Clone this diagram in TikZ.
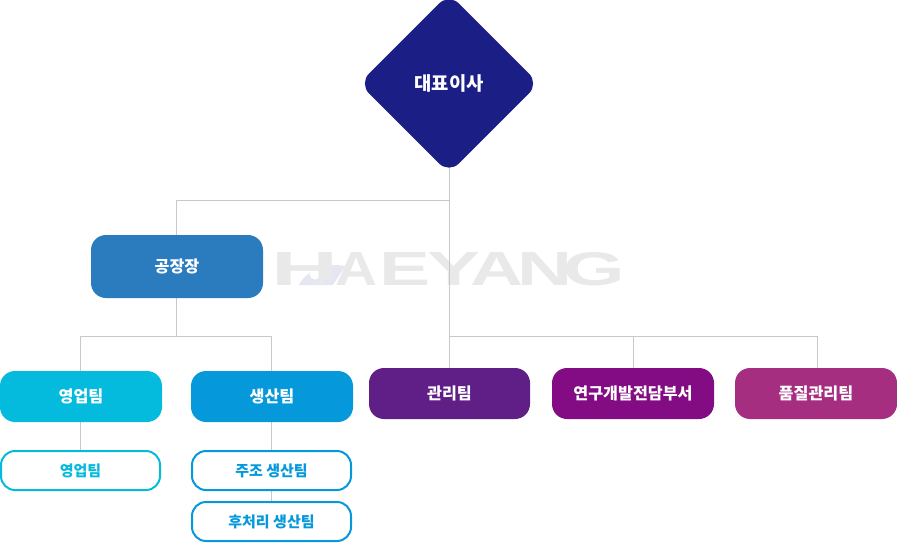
\documentclass[tikz,border=0pt]{standalone}
\usepackage{fontspec}
\setmainfont{Noto Sans CJK KR}
\newfontfamily\logofont{Liberation Sans}
\usetikzlibrary{shapes.geometric,backgrounds}
\definecolor{cBoss}{HTML}{1B1F85}
\definecolor{cFactory}{HTML}{2B7BBF}
\definecolor{cSales}{HTML}{05BBDD}
\definecolor{cProd}{HTML}{0599DC}
\definecolor{cAdmin}{HTML}{5F1F87}
\definecolor{cRnd}{HTML}{830C84}
\definecolor{cQual}{HTML}{A52E80}
\definecolor{cLine}{HTML}{C8C8C8}
\definecolor{cLogo}{HTML}{E9E9E9}
\definecolor{cBlob}{HTML}{E4E6F2}
\newcommand{\logoletter}[2]{\resizebox{#1pt}{33pt}{#2}}
\tikzset{
  x=1pt,y=-1pt,
  teambox/.style={rectangle,rounded corners=15pt,inner sep=0pt,text=white,font=\bfseries\fontsize{16.2}{18}\selectfont,minimum height=51pt,minimum width=162pt},
  subbox/.style={rectangle,rounded corners=14pt,inner sep=0pt,draw,line width=2pt,fill=white,font=\bfseries\fontsize{15}{17}\selectfont,minimum height=39pt,minimum width=159pt},
  conn/.style={draw=cLine,line width=1pt},
}
\begin{document}
\begin{tikzpicture}
\useasboundingbox (0,0) rectangle (897,542);
\node[diamond,aspect=1,inner sep=0pt,minimum width=180pt,minimum height=180pt,fill=cBoss,rounded corners=14pt,text=white,font=\bfseries\fontsize{18.8}{20}\selectfont] (boss) at (449,83.5) {대표이사};
\node[teambox,fill=cFactory,minimum width=172pt,minimum height=63pt] (factory) at (177,266.5) {공장장};
\node[teambox,fill=cSales] (sales) at (81,396.5) {영업팀};
\node[teambox,fill=cProd] (prod) at (272,396.5) {생산팀};
\node[teambox,fill=cAdmin,minimum width=161pt] (admin) at (449.5,393.5) {관리팀};
\node[teambox,fill=cRnd] (rnd) at (633,393.5) {연구개발전담부서};
\node[teambox,fill=cQual] (qual) at (816,393.5) {품질관리팀};
\node[subbox,draw=cSales,text=cSales] (salessub) at (80.5,470.5) {영업팀};
\node[subbox,draw=cProd,text=cProd] (cast) at (271.5,470.5) {주조 생산팀};
\node[subbox,draw=cProd,text=cProd] (post) at (271.5,521.5) {후처리 생산팀};
\coordinate (top) at (449.5,200);
\coordinate (fbus) at (176.5,336);
\coordinate (mbus) at (449.5,336);
\begin{scope}[on background layer]
\fill[cBlob] (299,285) .. controls (305,272) and (325,262) .. (345,266) -- (333,285) -- cycle;
\fill[white] (315,274) circle (5.5);
\node[inner sep=0pt,text=cLogo,anchor=west] (logo) at (271.3,269.5) {\logofont\bfseries\logoletter{67}{H}\kern-3.3pt\logoletter{42}{A}\kern2.4pt\logoletter{51}{E}\kern-3.4pt\logoletter{53}{Y}\kern-10pt\logoletter{53}{A}\kern-5.5pt\logoletter{55}{N}\kern-9.5pt\logoletter{61.6}{G}};
\fill[cBlob] (323,279) rectangle (333,285);
\draw[conn] ([xshift=.5pt]boss.center) -- (top) -| ([xshift=-.5pt]factory.north);
\draw[conn] ([xshift=.5pt]boss.center) -- (admin.north);
\draw[conn] ([xshift=-.5pt]factory.south) -- (fbus) -| ([xshift=-.5pt]sales.north);
\draw[conn] (fbus) -| ([xshift=-.5pt]prod.north);
\draw[conn] (mbus) -| ([xshift=.5pt]rnd.north);
\draw[conn] (mbus) -| ([xshift=1.5pt]qual.north);
\draw[conn] ([xshift=-.5pt]sales.south) -- (salessub.north);
\draw[conn] ([xshift=-.5pt]prod.south) -- (cast.north);
\draw[conn] (cast.south) -- (post.north);
\end{scope}
\end{tikzpicture}
\end{document}
